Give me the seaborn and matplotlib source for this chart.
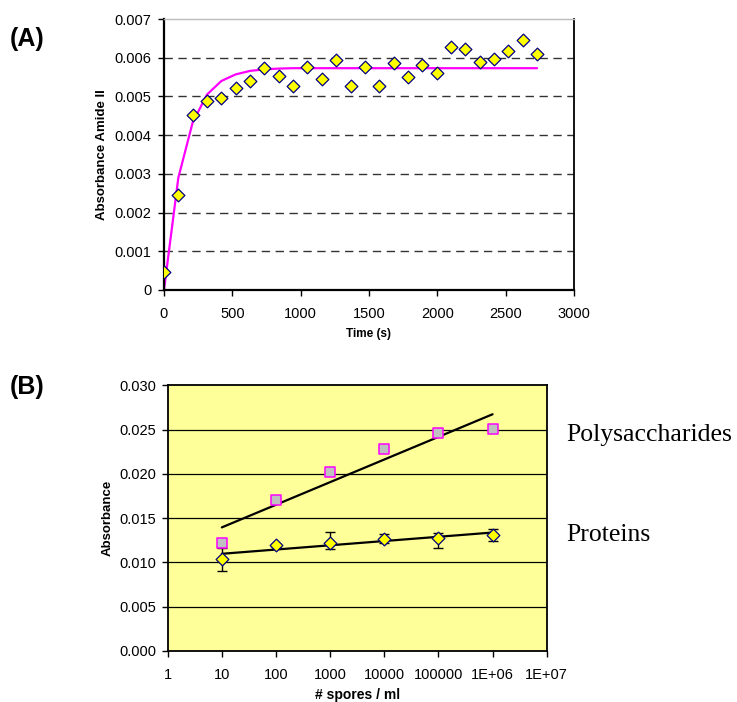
import numpy as np
import pandas as pd
import matplotlib
matplotlib.use("Agg")
import matplotlib.pyplot as plt
import seaborn as sns

# ---- data: panel A (amide II absorbance vs time) ----
time_s = [0, 105, 210, 315, 420, 525, 630, 735, 840, 945, 1050, 1155, 1260, 1365,
          1470, 1575, 1680, 1785, 1890, 1995, 2100, 2205, 2310, 2415, 2520, 2625, 2730]
amide_abs = [0.00047, 0.00245, 0.00451, 0.00487, 0.00497, 0.00521, 0.00539, 0.00573,
             0.00552, 0.00526, 0.00576, 0.00544, 0.00594, 0.00528, 0.00576, 0.00528,
             0.00586, 0.00549, 0.00581, 0.00560, 0.00628, 0.00622, 0.00589, 0.00596,
             0.00617, 0.00646, 0.00610]
amide_fit = [0.0, 0.00290, 0.00433, 0.00505, 0.00540, 0.00557, 0.00566, 0.00570,
             0.00572, 0.00573, 0.00573, 0.00573, 0.00573, 0.00573, 0.00573, 0.00573,
             0.00573, 0.00573, 0.00573, 0.00573, 0.00573, 0.00573, 0.00573, 0.00573,
             0.00573, 0.00573, 0.00573]
a_yticks = [0, 0.001, 0.002, 0.003, 0.004, 0.005, 0.006, 0.007]
a_yticklabels = ["0", "0.001", "0.002", "0.003", "0.004", "0.005", "0.006", "0.007"]

# ---- data: panel B (absorbance vs spore concentration) ----
spores = [10, 100, 1000, 10000, 100000, 1000000]
polysacch = [0.01223, 0.01708, 0.02024, 0.02280, 0.02458, 0.02510]
proteins = [0.01035, 0.01193, 0.01220, 0.01265, 0.01280, 0.01310]
prot_err_low = [0.00130, 0.00020, 0.00070, 0.00050, 0.00120, 0.00070]
prot_err_high = [0.00130, 0.00020, 0.00120, 0.00050, 0.00050, 0.00070]
b_xticks = [1, 10, 100, 1000, 10000, 100000, 1000000, 10000000]
b_xticklabels = ["1", "10", "100", "1000", "10000", "100000", "1E+06", "1E+07"]
b_yticks = [0.0, 0.005, 0.010, 0.015, 0.020, 0.025, 0.030]
b_yticklabels = ["0.000", "0.005", "0.010", "0.015", "0.020", "0.025", "0.030"]

sns.set_style("white")
plt.rcParams['font.family'] = ['Liberation Sans', 'DejaVu Sans']
plt.rcParams['text.color'] = 'black'
plt.rcParams['axes.labelcolor'] = 'black'
plt.rcParams['xtick.color'] = 'black'
plt.rcParams['ytick.color'] = 'black'

fig = plt.figure(figsize=(7.37, 7.02), dpi=100)

# ---------------- Panel A ----------------
axA = fig.add_axes([0.2225, 0.5869, 0.5563, 0.3860])
dfA = pd.DataFrame({"t": time_s, "abs": amide_abs, "fit": amide_fit})
for yv in a_yticks[1:-1]:
    axA.axhline(yv, color="#333333", lw=1.0, linestyle=(0, (6, 4)), zorder=1)
sns.lineplot(data=dfA, x="t", y="fit", color="#FF00FF", lw=1.6, ax=axA, zorder=2)
sns.scatterplot(data=dfA, x="t", y="abs", marker="D", s=42, color="#FFFF00",
                edgecolor="#000080", linewidth=0.9, ax=axA, zorder=3)
axA.set_xlim(0, 3000)
axA.set_ylim(0, 0.007)
axA.set_xticks([0, 500, 1000, 1500, 2000, 2500, 3000])
axA.set_yticks(a_yticks)
axA.set_yticklabels(a_yticklabels)
axA.tick_params(axis="both", direction="out", length=4, width=1, labelsize=10.5,
                left=True, bottom=True)
axA.tick_params(axis="x", pad=8)
axA.tick_params(axis="y", pad=5)
for side in ["left", "bottom"]:
    axA.spines[side].set_linewidth(1.6)
    axA.spines[side].set_color("black")
axA.spines["right"].set_linewidth(1.3)
axA.spines["right"].set_color("black")
axA.spines["top"].set_linewidth(1.0)
axA.spines["top"].set_color("#bbbbbb")
axA.set_xlabel("Time (s)", fontsize=8.5, fontweight="bold")
axA.set_ylabel("Absorbance Amide II", fontsize=9.5, fontweight="bold")
axA.xaxis.set_label_coords(0.5, -0.14)
axA.yaxis.set_label_coords(-0.136, 0.5)

# ---------------- Panel B ----------------
axB = fig.add_axes([0.2275, 0.0727, 0.5143, 0.3785])
axB.set_facecolor("#FFFF99")
axB.set_xscale("log")
for yv in b_yticks[1:-1]:
    axB.axhline(yv, color="black", lw=0.9, zorder=1)
dfB = pd.DataFrame({"spores": spores, "poly": polysacch, "prot": proteins})
sns.regplot(data=dfB, x="spores", y="poly", logx=True, ci=None, scatter=False,
            line_kws={"color": "black", "lw": 1.6, "zorder": 2}, ax=axB)
sns.regplot(data=dfB, x="spores", y="prot", logx=True, ci=None, scatter=False,
            line_kws={"color": "black", "lw": 1.6, "zorder": 2}, ax=axB)
axB.errorbar(spores, proteins, yerr=[prot_err_low, prot_err_high], fmt="none",
             ecolor="black", elinewidth=1.0, capsize=3.5, capthick=1.0, zorder=3)
sns.scatterplot(data=dfB, x="spores", y="poly", marker="s", s=48, color="#C0C0C0",
                edgecolor="#FF00FF", linewidth=1.1, ax=axB, zorder=4)
sns.scatterplot(data=dfB, x="spores", y="prot", marker="D", s=42, color="#FFFF00",
                edgecolor="#000080", linewidth=0.9, ax=axB, zorder=4)
axB.set_xlim(1, 1e7)
axB.set_ylim(0, 0.030)
axB.set_xticks(b_xticks)
axB.set_xticklabels(b_xticklabels)
axB.xaxis.set_minor_locator(matplotlib.ticker.NullLocator())
axB.set_yticks(b_yticks)
axB.set_yticklabels(b_yticklabels)
axB.tick_params(axis="both", direction="out", length=4, width=1, labelsize=10.5,
                left=True, bottom=True)
axB.tick_params(axis="x", pad=8)
axB.tick_params(axis="y", pad=4)
for side in ["left", "bottom", "right", "top"]:
    axB.spines[side].set_linewidth(1.3)
    axB.spines[side].set_color("black")
axB.set_xlabel("# spores / ml", fontsize=10, fontweight="bold")
axB.set_ylabel("Absorbance", fontsize=9.5, fontweight="bold")
axB.xaxis.set_label_coords(0.5, -0.139)
axB.yaxis.set_label_coords(-0.1435, 0.5)

# series names and panel letters
fig.text(0.768, 0.380, "Polysaccharides", family="Liberation Serif", fontsize=18.5,
         ha="left", va="center")
fig.text(0.768, 0.238, "Proteins", family="Liberation Serif", fontsize=18.5,
         ha="left", va="center")
fig.text(0.013, 0.944, "(A)", fontsize=18, fontweight="bold", ha="left", va="center")
fig.text(0.013, 0.449, "(B)", fontsize=18, fontweight="bold", ha="left", va="center")

fig.savefig("out.png", dpi=100)
